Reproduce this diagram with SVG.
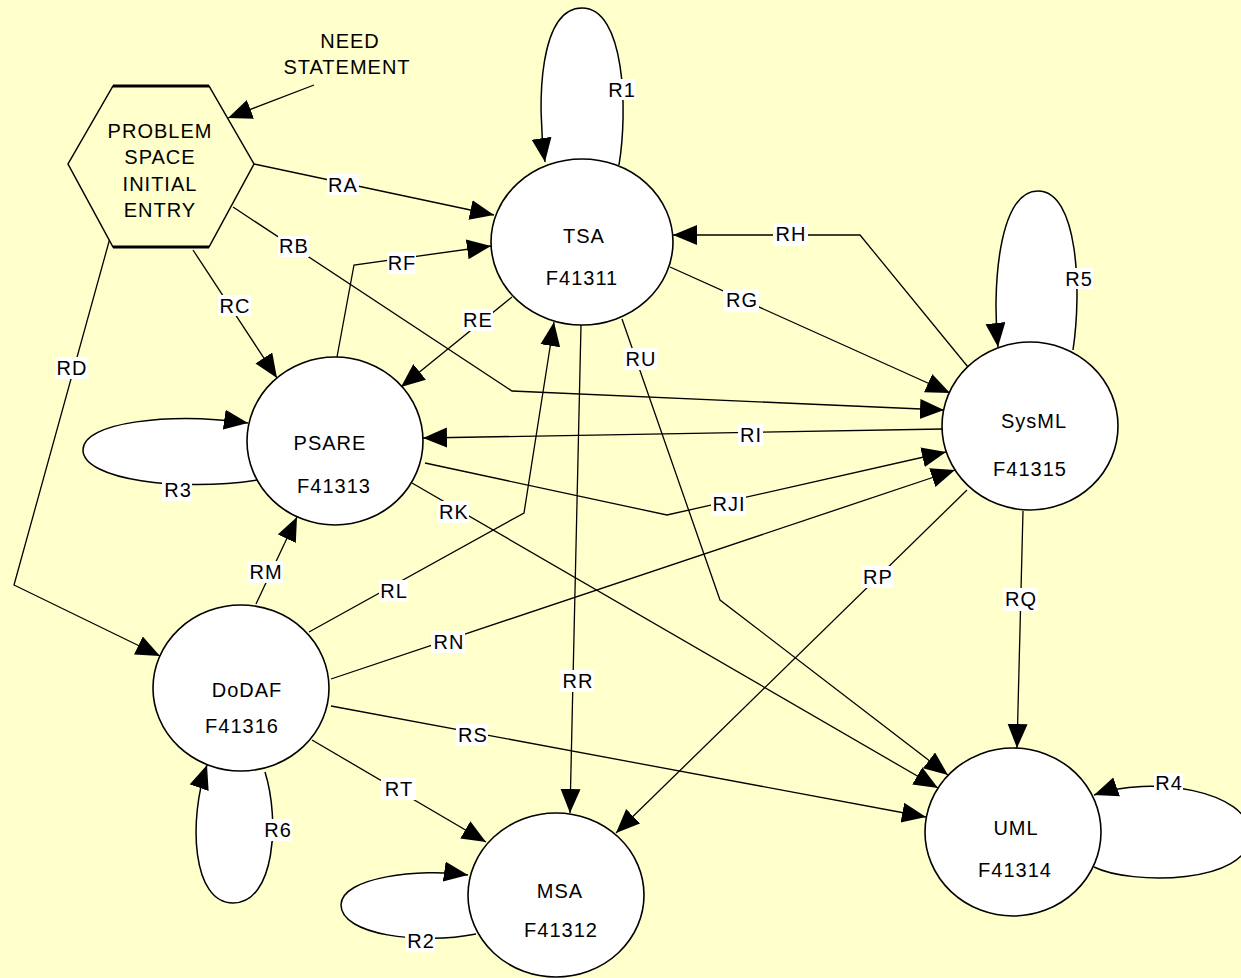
<svg xmlns="http://www.w3.org/2000/svg" width="1241" height="978" viewBox="0 0 1241 978">
  <defs>
    <marker id="ah" markerUnits="userSpaceOnUse" viewBox="0 0 26 22" markerWidth="26" markerHeight="22" refX="24" refY="10" orient="auto">
      <path d="M0,0 L24,10 L0,20 z" fill="#000"/>
    </marker>
    <style>
      text { font-family: "Liberation Sans", Arial, sans-serif; font-size: 20px; letter-spacing: 1px; fill: #000; text-anchor: middle; }
      .edge { fill: none; stroke: #000; stroke-width: 1.3; marker-end: url(#ah); }
      .loop { fill: #fff; stroke: #000; stroke-width: 1.5; marker-end: url(#ah); }
      .lbl rect { fill: #fff; }
      .node ellipse { fill: #fff; stroke: #000; stroke-width: 1.6; }
    </style>
  </defs>

  <rect width="1241" height="978" fill="#FFFFCC"/>

  <g id="connectors">
    <!-- self loops -->
    <path class="loop" d="M619,165 C628,110 625,8 582,8 C540,8 536,100 545,162"/>
    <path class="loop" d="M1073,350 C1082,290 1078,191 1038,191 C998,191 992,290 998,347"/>
    <path class="loop" d="M257,480 C180,492 83,480 83,450 C83,422 170,412 248,423"/>
    <path class="loop" d="M265,772 C280,820 275,903 233,903 C192,903 188,820 207,765"/>
    <path class="loop" d="M476,934 C420,945 341,935 341,905 C341,877 420,868 468,875"/>
    <path class="loop" d="M1094,867 C1130,885 1250,885 1250,835 C1250,790 1150,775 1094,795"/>

    <!-- relations -->
    <path class="edge" d="M314,85 L228,118"/>
    <path class="edge" d="M254,164 L494,215"/>
    <path class="edge" d="M233,207 L512,391 L944,410"/>
    <path class="edge" d="M193,250 L277,378"/>
    <path class="edge" d="M110,238 L14,585 L160,656"/>
    <path class="edge" d="M512,297 L401,387"/>
    <path class="edge" d="M337,357 L354,265 L491,246"/>
    <path class="edge" d="M670,267 L950,393"/>
    <path class="edge" d="M968,367 L860,235 L673,235"/>
    <path class="edge" d="M943,429 L423,438"/>
    <path class="edge" d="M425,463 L667,515 L946,452"/>
    <path class="edge" d="M412,483 L938,788"/>
    <path class="edge" d="M309,632 L524,513 L554,322"/>
    <path class="edge" d="M256,604 L297,517"/>
    <path class="edge" d="M331,679 L955,470"/>
    <path class="edge" d="M967,490 L616,833"/>
    <path class="edge" d="M1023,511 L1017,748"/>
    <path class="edge" d="M581,325 L570,813"/>
    <path class="edge" d="M331,706 L926,817"/>
    <path class="edge" d="M312,740 L486,842"/>
    <path class="edge" d="M622,319 L720,600 L948,775"/>

    <!-- labels -->
    <g class="lbl">
      <rect x="327" y="174" width="32" height="21"/><text x="343" y="192">RA</text>
      <rect x="278" y="236" width="31" height="21"/><text x="294" y="253">RB</text>
      <rect x="218" y="295" width="33" height="21"/><text x="235" y="313">RC</text>
      <rect x="55" y="357" width="33" height="22"/><text x="72" y="375">RD</text>
      <rect x="462" y="309" width="31" height="22"/><text x="478" y="327">RE</text>
      <rect x="387" y="252" width="29" height="22"/><text x="402" y="270">RF</text>
      <rect x="723" y="289" width="36" height="23"/><text x="742" y="307">RG</text>
      <rect x="773" y="223" width="35" height="23"/><text x="791" y="241">RH</text>
      <rect x="738" y="424" width="25" height="22"/><text x="751" y="442">RI</text>
      <rect x="711" y="493" width="35" height="23"/><text x="729" y="511">RJI</text>
      <rect x="437" y="501" width="32" height="22"/><text x="454" y="519">RK</text>
      <rect x="379" y="580" width="29" height="22"/><text x="394" y="598">RL</text>
      <rect x="248" y="561" width="35" height="22"/><text x="266" y="579">RM</text>
      <rect x="431" y="631" width="34" height="22"/><text x="449" y="649">RN</text>
      <rect x="862" y="566" width="31" height="22"/><text x="878" y="584">RP</text>
      <rect x="1003" y="588" width="35" height="23"/><text x="1021" y="606">RQ</text>
      <rect x="560" y="670" width="34" height="22"/><text x="578" y="688">RR</text>
      <rect x="456" y="724" width="32" height="22"/><text x="473" y="742">RS</text>
      <rect x="381" y="778" width="35" height="22"/><text x="399" y="796">RT</text>
      <rect x="623" y="348" width="34" height="22"/><text x="641" y="366">RU</text>
      <rect x="606" y="79" width="30" height="21"/><text x="622" y="97">R1</text>
      <rect x="405" y="930" width="30" height="22"/><text x="421" y="948">R2</text>
      <rect x="162" y="479" width="30" height="22"/><text x="178" y="497">R3</text>
      <rect x="1154" y="773" width="29" height="21"/><text x="1169" y="790">R4</text>
      <rect x="1063" y="268" width="30" height="21"/><text x="1079" y="286">R5</text>
      <rect x="262" y="819" width="30" height="22"/><text x="278" y="837">R6</text>
    </g>
  </g>

  <g id="need-statement">
    <text x="350" y="48">NEED</text>
    <text x="347" y="74">STATEMENT</text>
  </g>

  <g id="problem-space">
    <polygon points="113,86 209,86 254,164 209,247 113,247 68,164" fill="#FFFFCC" stroke="#000" stroke-width="1.5"/>
    <line x1="113" y1="86" x2="209" y2="86" stroke="#000" stroke-width="3"/>
    <line x1="113" y1="247" x2="209" y2="247" stroke="#000" stroke-width="3"/>
    <text x="160" y="138">PROBLEM</text>
    <text x="160" y="164">SPACE</text>
    <text x="160" y="191">INITIAL</text>
    <text x="160" y="217">ENTRY</text>
  </g>

  <g id="tsa" class="node">
    <ellipse cx="582" cy="242" rx="91" ry="83"/>
    <text x="584" y="243">TSA</text>
    <text x="582" y="285">F41311</text>
  </g>
  <g id="sysml" class="node">
    <ellipse cx="1030" cy="426" rx="88" ry="84"/>
    <text x="1034" y="428">SysML</text>
    <text x="1030" y="476">F41315</text>
  </g>
  <g id="psare" class="node">
    <ellipse cx="335" cy="441" rx="88" ry="84"/>
    <text x="330" y="450">PSARE</text>
    <text x="334" y="493">F41313</text>
  </g>
  <g id="dodaf" class="node">
    <ellipse cx="241" cy="688" rx="88" ry="83"/>
    <text x="247" y="697">DoDAF</text>
    <text x="242" y="733">F41316</text>
  </g>
  <g id="msa" class="node">
    <ellipse cx="556" cy="895" rx="88" ry="82"/>
    <text x="560" y="898">MSA</text>
    <text x="561" y="937">F41312</text>
  </g>
  <g id="uml" class="node">
    <ellipse cx="1013" cy="832" rx="88" ry="84"/>
    <text x="1016" y="835">UML</text>
    <text x="1015" y="877">F41314</text>
  </g>
</svg>
